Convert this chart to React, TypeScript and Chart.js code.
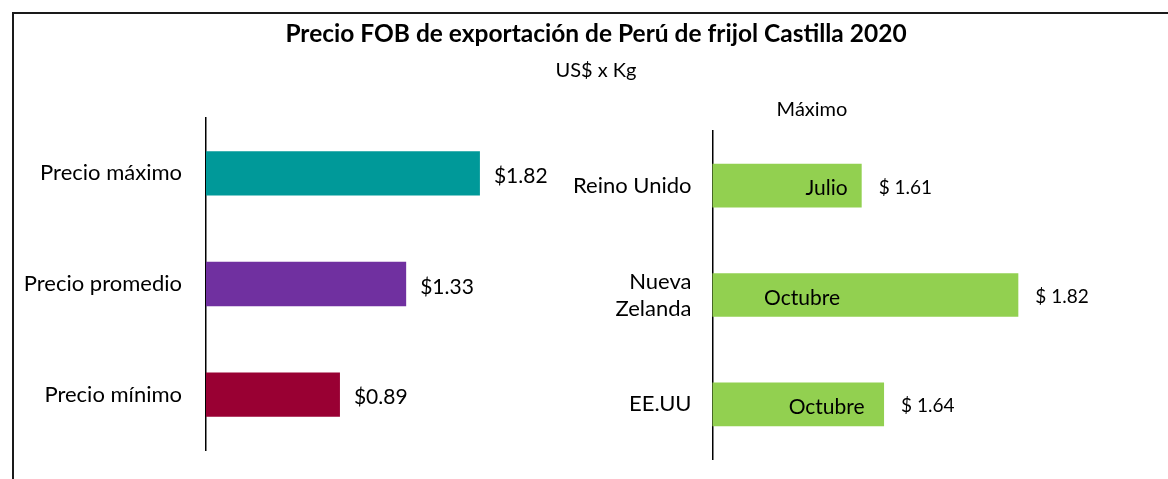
import React, { useEffect, useRef } from 'react';
import { Chart, registerables } from 'chart.js';

Chart.register(...registerables);

// ---------- data ----------
const TITLE = 'Precio FOB de exportación de Perú de frijol Castilla 2020';
const SUBTITLE = 'US$ x Kg';

const LEFT_CATEGORIES = ['Precio máximo', 'Precio promedio', 'Precio mínimo'];
const LEFT_VALUES = [1.82, 1.33, 0.89];
const LEFT_COLORS = ['#009999', '#7030A0', '#990033'];
const LEFT_X_MIN = 0;
const LEFT_X_MAX = 2;

const RIGHT_TITLE = 'Máximo';
const RIGHT_CATEGORIES: (string | string[])[] = ['Reino Unido', ['Nueva', 'Zelanda'], 'EE.UU'];
const RIGHT_VALUES = [1.61, 1.82, 1.64];
const RIGHT_MONTHS = ['Julio', 'Octubre', 'Octubre'];
const RIGHT_MONTH_ANCHOR = [1.563, 1.53, 1.563];
const RIGHT_X_MIN = 1.41;
const RIGHT_X_MAX = 1.9;
const RIGHT_COLOR = '#92D050';

// ---------- style ----------
const FONT = 'Lato, "Noto Sans", sans-serif';
const TEXT = '#000000';

const headerPlugin = {
  id: 'header',
  afterDraw(chart: any) {
    const ctx = chart.ctx;
    ctx.save();
    ctx.fillStyle = TEXT;
    ctx.textAlign = 'center';
    ctx.textBaseline = 'middle';
    ctx.font = `bold 24.5px ${FONT}`;
    ctx.fillText(TITLE, chart.width / 2, 22);
    ctx.font = `20px ${FONT}`;
    ctx.fillText(SUBTITLE, chart.width / 2, 59);
    ctx.restore();
  },
};

const leftLabelsPlugin = {
  id: 'leftLabels',
  afterDatasetsDraw(chart: any) {
    const ctx = chart.ctx;
    const meta = chart.getDatasetMeta(0);
    ctx.save();
    ctx.fillStyle = TEXT;
    ctx.textAlign = 'left';
    ctx.textBaseline = 'middle';
    ctx.font = `21px ${FONT}`;
    meta.data.forEach((bar: any, i: number) => {
      ctx.fillText(`$${LEFT_VALUES[i].toFixed(2)}`, bar.x + 14, bar.y + 3);
    });
    ctx.restore();
  },
};

const rightLabelsPlugin = {
  id: 'rightLabels',
  afterDatasetsDraw(chart: any) {
    const ctx = chart.ctx;
    const meta = chart.getDatasetMeta(0);
    const xs = chart.scales.x;
    ctx.save();
    ctx.fillStyle = TEXT;
    ctx.textBaseline = 'middle';
    meta.data.forEach((bar: any, i: number) => {
      ctx.textAlign = 'left';
      ctx.font = `19px ${FONT}`;
      ctx.fillText(`$ ${RIGHT_VALUES[i].toFixed(2)}`, bar.x + 17, bar.y + 2);
      ctx.textAlign = 'center';
      ctx.font = `21px ${FONT}`;
      ctx.fillText(RIGHT_MONTHS[i], xs.getPixelForValue(RIGHT_MONTH_ANCHOR[i]), bar.y + 3);
    });
    ctx.restore();
  },
};

export default function App() {
  const leftRef = useRef<HTMLCanvasElement>(null);
  const rightRef = useRef<HTMLCanvasElement>(null);

  useEffect(() => {
    if (!leftRef.current || !rightRef.current) return;

    const left = new Chart(leftRef.current, {
      type: 'bar',
      data: {
        labels: LEFT_CATEGORIES,
        datasets: [
          {
            data: LEFT_VALUES,
            backgroundColor: LEFT_COLORS,
            borderWidth: 0,
            barPercentage: 0.4,
            categoryPercentage: 1,
          },
        ],
      },
      options: {
        indexAxis: 'y',
        responsive: false,
        animation: false,
        events: [],
        layout: { padding: { left: 0, top: 106, right: 673, bottom: 82 } },
        plugins: {
          legend: { display: false },
          tooltip: { enabled: false },
          title: { display: false },
        },
        scales: {
          x: { display: false, min: LEFT_X_MIN, max: LEFT_X_MAX },
          y: {
            grid: { display: false, drawTicks: false },
            border: { display: true, color: '#000', width: 1.5 },
            ticks: { padding: 24, color: TEXT, font: { family: FONT, size: 22 } },
            afterFit: (s: any) => {
              s.width = 194;
            },
          },
        },
      },
      plugins: [headerPlugin, leftLabelsPlugin],
    } as any);

    const right = new Chart(rightRef.current, {
      type: 'bar',
      data: {
        labels: RIGHT_CATEGORIES,
        datasets: [
          {
            data: RIGHT_VALUES,
            backgroundColor: RIGHT_COLOR,
            borderWidth: 0,
            barPercentage: 0.4,
            categoryPercentage: 1,
          },
        ],
      },
      options: {
        indexAxis: 'y',
        responsive: false,
        animation: false,
        events: [],
        layout: { padding: { left: 0, top: 0, right: 90, bottom: 73 } },
        plugins: {
          legend: { display: false },
          tooltip: { enabled: false },
          title: {
            display: true,
            text: RIGHT_TITLE,
            color: TEXT,
            font: { family: FONT, size: 20, weight: 'normal', lineHeight: 1.2 },
            padding: { top: 86, bottom: 9 },
          },
        },
        scales: {
          x: { display: false, min: RIGHT_X_MIN, max: RIGHT_X_MAX },
          y: {
            grid: { display: false, drawTicks: false },
            border: { display: true, color: '#000', width: 1.5 },
            ticks: { padding: 21, color: TEXT, font: { family: FONT, size: 22, lineHeight: 1.23 } },
            afterFit: (s: any) => {
              s.width = 166.5;
            },
          },
        },
      },
      plugins: [rightLabelsPlugin],
    } as any);

    return () => {
      left.destroy();
      right.destroy();
    };
  }, []);

  return (
    <div
      style={{
        position: 'fixed',
        left: 0,
        top: 0,
        width: 1168,
        height: 479,
        overflow: 'hidden',
        background: '#fff',
      }}
    >
      <div
        style={{
          position: 'absolute',
          left: 12,
          top: 12,
          width: 1200,
          height: 500,
          borderTop: '2px solid #1a1a1a',
          borderLeft: '2px solid #1a1a1a',
        }}
      />
      <canvas
        ref={leftRef}
        width={1168}
        height={520}
        style={{ position: 'absolute', left: 12, top: 12, width: 1168, height: 520 }}
      />
      <canvas
        ref={rightRef}
        width={622}
        height={520}
        style={{ position: 'absolute', left: 546, top: 12, width: 622, height: 520 }}
      />
    </div>
  );
}
